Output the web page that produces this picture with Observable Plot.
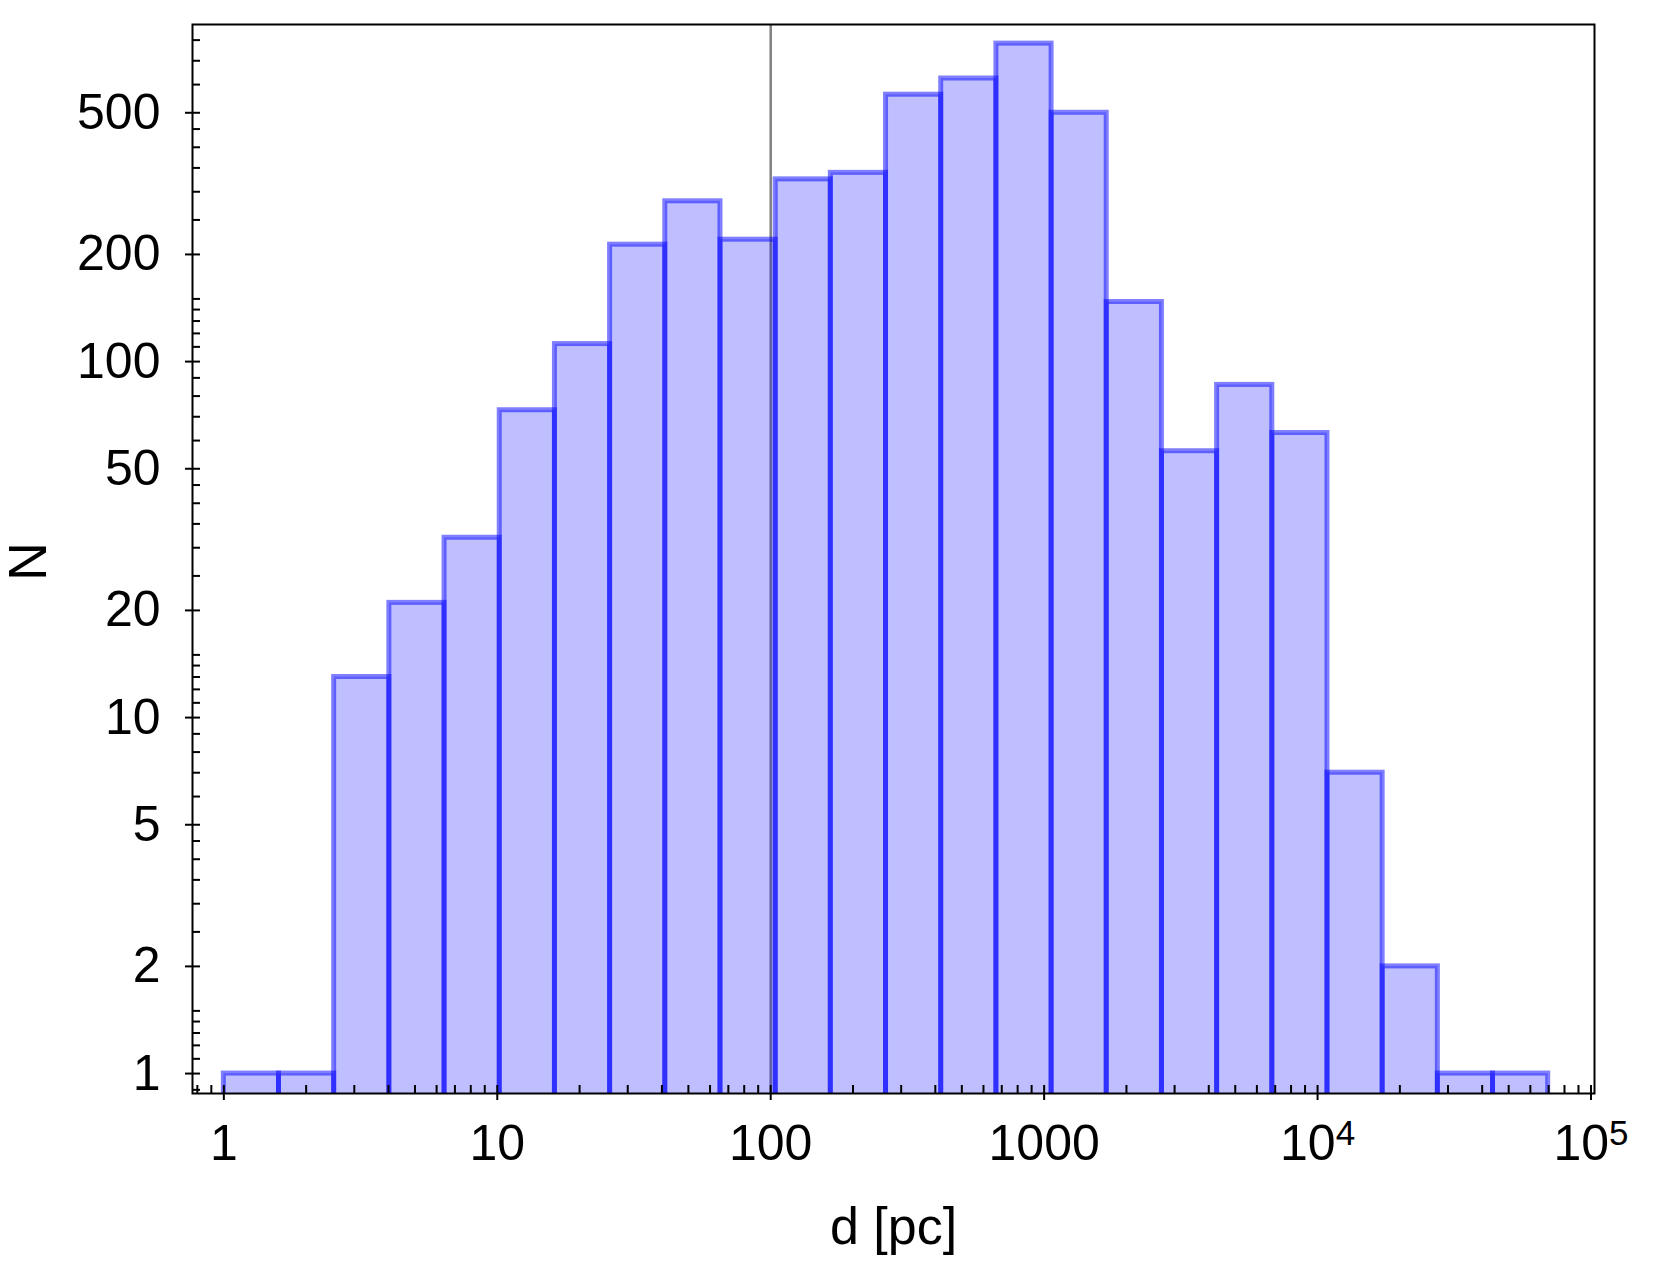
<!DOCTYPE html>
<html>
<head>
<meta charset="utf-8">
<script src="https://cdn.jsdelivr.net/npm/d3@7"></script>
<script src="https://cdn.jsdelivr.net/npm/@observablehq/plot@0.6"></script>
<style>
  html, body { margin: 0; padding: 0; background: white; }
  #chart svg { display: block; }
</style>
</head>
<body>
<div id="chart"></div>
<script>
// Histogram bin edges (pc) and counts
const binEdges = [1, 1.591, 2.532, 4.030, 6.415, 10.21, 16.25, 25.86, 41.16, 65.51,
  104.3, 165.9, 264.1, 420.3, 669.0, 1065, 1694, 2697, 4292, 6831,
  10870, 17300, 27540, 43820, 69740];
const counts = [1, 1, 13, 21, 32, 73, 112, 213, 282, 220,
  325, 339, 562, 624, 782, 500, 147, 56, 86, 63,
  7, 2, 1, 1];
const refLine = [100];

// Tick values
const xMajor = [1, 10, 100, 1000, 10000, 100000];
const xMinor = [0.8, 0.9, 2, 3, 4, 5, 6, 7, 8, 9, 20, 30, 40, 50, 60, 70, 80, 90,
  200, 300, 400, 500, 600, 700, 800, 900, 2000, 3000, 4000, 5000, 6000, 7000, 8000, 9000,
  20000, 30000, 40000, 50000, 60000, 70000, 80000, 90000];
const yMajor = [1, 2, 5, 10, 20, 50, 100, 200, 500];
const yMinor = [0.9, 1.1, 1.2, 1.3, 1.4, 1.5, 2.5, 3, 3.5, 4, 4.5, 6, 7, 8, 9,
  11, 12, 13, 14, 15, 25, 30, 35, 40, 45, 60, 70, 80, 90,
  110, 120, 130, 140, 150, 250, 300, 350, 400, 450, 600, 700, 800];

const bins = counts.map((n, i) => ({x1: binEdges[i], x2: binEdges[i + 1], n}));

const fontFamily = "'Liberation Sans', Arial, sans-serif";
const fontSize = 50;

const W = 1661, Hh = 1263;
const mL = 192, mR = 67, mT = 24, mB = 170;
const fw = W - mL - mR, fh = Hh - mT - mB;

const fmtX = d => d >= 10000 ? "10^" + Math.round(Math.log10(d)) : String(d);

const chart = Plot.plot({
  width: W, height: Hh,
  marginLeft: mL, marginRight: mR, marginTop: mT, marginBottom: mB,
  style: {fontFamily, fontSize: fontSize + "px", color: "black", background: "white"},
  x: {type: "log", domain: [0.768, 103000]},
  y: {type: "log", domain: [0.879, 885]},
  marks: [
    Plot.ruleX(refLine, {x: d => d, stroke: "#808080", strokeWidth: 2.5}),
    Plot.rect(bins, {x1: "x1", x2: "x2", y1: 0.5, y2: "n",
      fill: "blue", fillOpacity: 0.25, stroke: "blue", strokeOpacity: 0.5,
      strokeWidth: 5, clip: true}),
    Plot.frame({stroke: "black", strokeWidth: 2}),
    Plot.tickX(xMinor, {x: d => d, insetTop: fh - 8, stroke: "black", strokeWidth: 2}),
    Plot.tickX(xMajor, {x: d => d, insetTop: fh - 8, insetBottom: -7, stroke: "black", strokeWidth: 2}),
    Plot.tickY(yMinor, {y: d => d, insetRight: fw - 8, stroke: "black", strokeWidth: 2}),
    Plot.tickY(yMajor, {y: d => d, insetRight: fw - 8, insetLeft: -7, stroke: "black", strokeWidth: 2}),
    Plot.axisX({ticks: xMajor, tickSize: 0, tickPadding: 31, text: fmtX,
      fontSize, label: null}),
    Plot.axisY({ticks: yMajor, tickSize: 0, tickPadding: 32, text: d => String(d),
      fontSize, label: null}),
    Plot.text(["d [pc]"], {frameAnchor: "bottom", dy: 150, text: d => d,
      fontSize: 52, lineAnchor: "bottom"}),
    Plot.text(["N"], {frameAnchor: "left", dx: -164, dy: 22, text: d => d, rotate: -90,
      fontSize: 54})
  ]
});

// superscript exponents
chart.querySelectorAll("text").forEach(t => {
  const m = /^10\^(\d+)$/.exec(t.textContent);
  if (m) {
    t.textContent = "10";
    const ts = document.createElementNS("http://www.w3.org/2000/svg", "tspan");
    ts.setAttribute("dy", "-0.42em");
    ts.setAttribute("font-size", "0.7em");
    ts.textContent = m[1];
    t.appendChild(ts);
  }
});

document.getElementById("chart").appendChild(chart);
</script>
</body>
</html>
